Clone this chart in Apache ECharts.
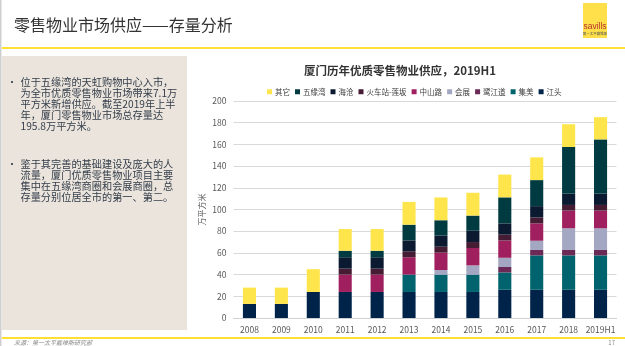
<!DOCTYPE html>
<html><head><meta charset="utf-8">
<script src="https://cdn.jsdelivr.net/npm/echarts@6/dist/echarts.min.js"></script>
<style>html,body{margin:0;padding:0;background:#fff}#c{width:625px;height:346px}</style>
</head><body><div id="c"></div>
<script>
var categories = ['2008','2009','2010','2011','2012','2013','2014','2015','2016','2017','2018','2019H1'];
var jiangtou    = [13,13,24,24,24,24,24,24,26,26,26,26];
var jimei       = [0,0,0,0,0,16,16,16,16,31.7,31.7,31.7];
var lujiangdao  = [0,0,0,0,0,0,0,0,5,5,5,5];
var huizhan     = [0,0,0,0,0,0,4.2,8.5,8.5,8.5,20,20];
var zhongshanlu = [0,0,0,16,16,16,16,16,16,16,16.3,16.3];
var huochezhan  = [0,0,0,5.5,5.5,5.5,5.5,5.5,5.3,5.5,5.2,5.2];
var haicang     = [0,0,0,10.5,10.5,10,10.4,10.4,10.4,10.4,10.4,10.4];
var wuyuanwan   = [0,0,0,6,6,14.5,14,14,24,24,43,50];
var other       = [15,15,21,20,20,21,21,21,21,21,21,20.5];
var yTicks = [0,20,40,60,80,100,120,140,160,180,200];

var seriesDefs = [
  ['江头', jiangtou, '#00234A'],
  ['集美', jimei, '#00636E'],
  ['鹭江道', lujiangdao, '#6A2A55'],
  ['会展', huizhan, '#A4A7C2'],
  ['中山路', zhongshanlu, '#A0205F'],
  ['火车站-莲坂', huochezhan, '#451C33'],
  ['海沧', haicang, '#0B1A30'],
  ['五缘湾', wuyuanwan, '#003B41'],
  ['其它', other, '#FFE54C']
];
var FONT = '"Noto Sans CJK SC","Noto Sans",sans-serif';
var series = seriesDefs.map(function(d){
  return {name:d[0], type:'bar', stack:'s', data:d[1], barWidth:'41%',
    itemStyle:{color:d[2]}, emphasis:{disabled:true}};
});

var para1 = ['位于五缘湾的天虹购物中心入市，','为全市优质零售物业市场带来7.1万','平方米新增供应。截至2019年上半','年，厦门零售物业市场总存量达','195.8万平方米。'];
var para2 = ['鉴于其完善的基础建设及庞大的人','流量，厦门优质零售物业项目主要','集中在五缘湾商圈和会展商圈，总','存量分别位居全市的第一、第二。'];

var graphics = [
  {type:'rect', shape:{x:0,y:0,width:1.5,height:346}, style:{fill:'#cfcfcf'}},
  {type:'text', left:14, top:17, style:{text:'零售物业市场供应——存量分析', fontSize:16, fontFamily:FONT, fill:'#333'}},
  {type:'rect', shape:{x:583,y:3,width:24,height:35}, style:{fill:'#FFE04A'}},
  {type:'text', x:595, y:27, style:{text:'savills', fontSize:8.5, fontFamily:'"Liberation Sans",sans-serif', fill:'#B5312B', align:'center', verticalAlign:'middle'}},
  {type:'text', x:595, y:34, style:{text:'第一太平戴维斯', fontSize:3.5, fontFamily:FONT, fill:'#555', align:'center', verticalAlign:'middle'}},
  {type:'rect', shape:{x:2,y:47,width:623,height:2}, style:{fill:'#FFE033'}},
  {type:'rect', shape:{x:2,y:56,width:185,height:274}, style:{fill:'#EAE4DC'}},
  {type:'rect', shape:{x:2,y:337,width:623,height:2}, style:{fill:'#FFE033'}},
  {type:'text', x:14, y:343, style:{text:'来源：第一太平戴维斯研究部', fontSize:6, fontStyle:'italic', fontFamily:FONT, fill:'#888', verticalAlign:'middle'}},
  {type:'text', x:615, y:343, style:{text:'17', fontSize:6, fontFamily:FONT, fill:'#888', align:'right', verticalAlign:'middle'}}
];
function addPara(lines, y0){
  graphics.push({type:'text', x:7, y:y0, style:{text:'•', fontSize:10, fontFamily:FONT, fill:'#333d4a', verticalAlign:'middle'}});
  lines.forEach(function(l,i){
    graphics.push({type:'text', x:20.5, y:y0+i*11, style:{text:l, fontSize:10.2, fontFamily:FONT, fill:'#333d4a', verticalAlign:'middle'}});
  });
}
addPara(para1, 82);
addPara(para2, 164);

var chart = echarts.init(document.getElementById('c'), null, {renderer:'canvas'});
chart.setOption({
  animation:false,
  textStyle:{fontFamily:FONT},
  title:{text:'厦门历年优质零售物业供应，2019H1', left:395, top:60, textAlign:'center',
    textStyle:{fontSize:11.5, fontWeight:'bold', color:'#333', fontFamily:FONT}},
  legend:{data:seriesDefs.map(function(d){return d[0];}).reverse(), left:262, top:83, itemWidth:5, itemHeight:5, itemGap:5,
    icon:'rect', textStyle:{fontSize:7.5, color:'#404040', padding:[0,0,0,-2]}},
  grid:{left:233.5, right:8.5, top:101, bottom:28},
  xAxis:{type:'category', data:categories, axisTick:{show:false},
    axisLine:{lineStyle:{color:'#d0d0d0'}},
    axisLabel:{fontSize:8.5, color:'#595959', margin:8, interval:0}},
  yAxis:{type:'value', min:yTicks[0], max:yTicks[yTicks.length-1], interval:20,
    name:'万平方米', nameLocation:'middle', nameGap:28, nameRotate:90, nameMoveOverlap:false,
    nameTextStyle:{fontSize:8, color:'#595959'},
    axisLabel:{fontSize:8.5, color:'#595959', margin:7},
    splitLine:{lineStyle:{color:'#d9d9d9'}}},
  series:series,
  graphic:graphics
});
</script></body></html>
